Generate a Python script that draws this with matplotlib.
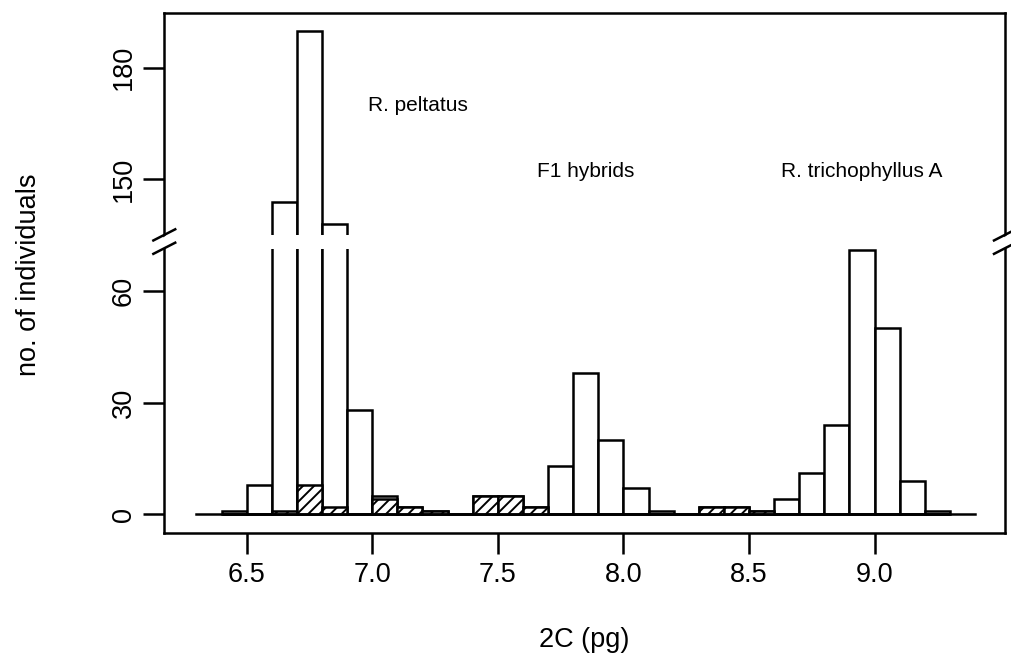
import numpy as np
import matplotlib.pyplot as plt
from matplotlib.patches import Rectangle

plt.rcParams['font.family'] = ['Liberation Sans', 'DejaVu Sans']
plt.rcParams['hatch.linewidth'] = 1.4

# bin left edges (2C, pg), bin width 0.1
bin_left = [6.4, 6.5, 6.6, 6.7, 6.8, 6.9, 7.0, 7.1, 7.2, 7.3,
            7.4, 7.5, 7.6, 7.7, 7.8, 7.9, 8.0, 8.1, 8.2, 8.3,
            8.4, 8.5, 8.6, 8.7, 8.8, 8.9, 9.0, 9.1, 9.2]
# all individuals (open bars)
n_total = [1, 8, 144, 190, 138, 28, 5, 2, 1, 0,
           5, 5, 2, 13, 38, 20, 7, 1, 0, 2,
           2, 1, 4, 11, 24, 71, 50, 9, 1]
# hatched subset
n_hatched = [0, 0, 1, 8, 2, 0, 4, 2, 1, 0,
             5, 5, 2, 0, 0, 0, 0, 0, 0, 2,
             2, 1, 0, 0, 0, 0, 0, 0, 0]

y_ticks = [0, 30, 60, 150, 180]
x_ticks = [6.5, 7.0, 7.5, 8.0, 8.5, 9.0]
labels = [("R. peltatus", 7.18, 170), ("F1 hybrids", 7.85, 152),
          ("R. trichophyllus A", 8.95, 152)]

gap = (75, 135)     # y-axis break
offset = 60         # values above the gap are drawn lowered by this
gap_lo, gap_hi = 71.3, 75.1   # white band in display units
width = 0.1


def to_disp(v):
    v = np.asarray(v, dtype=float)
    return np.where(v >= gap[1], v - offset, v)


fig = plt.figure(figsize=(10.11, 6.68), dpi=100)
ax = fig.add_axes([0.1625, 0.2025, 0.8315, 0.7773])

ax.bar(bin_left, to_disp(n_total), width=width, align='edge',
       facecolor='white', edgecolor='black', linewidth=1.8, zorder=2)
ax.bar(bin_left, n_hatched, width=width, align='edge',
       facecolor='white', edgecolor='black', hatch='///', linewidth=1.8, zorder=3)

# white band through bars that cross the break
for x0, v in zip(bin_left, n_total):
    if v >= gap[1]:
        ax.add_patch(Rectangle((x0 - 0.006, gap_lo), width + 0.012, gap_hi - gap_lo,
                               facecolor='white', edgecolor='none', zorder=4))

ax.plot([6.3, 9.4], [0, 0], color='black', linewidth=1.8, zorder=5)

for txt, x, y in labels:
    ax.text(x, float(to_disp(y)), txt, ha='center', va='center', fontsize=15)

ax.set_xlim(6.172, 9.519)
ax.set_ylim(-4.95, 134.6)
ax.set_xticks(x_ticks)
ax.set_xticklabels(["%.1f" % t for t in x_ticks], fontsize=19.5)
ax.set_yticks(to_disp(y_ticks))
ax.set_yticklabels([str(t) for t in y_ticks], fontsize=19.5, rotation=90, va='center')
ax.tick_params(length=15, width=1.8, pad=5)
ax.tick_params(axis='x', pad=6)
for s in ax.spines.values():
    s.set_linewidth(1.8)

# axis break marks (slashes) on both sides
trans = ax.get_yaxis_transform()
for xc in (0.0, 1.0):
    dx = 0.013
    ax.fill([xc - dx, xc + dx, xc + dx, xc - dx],
            [70.0, 73.5, 76.3, 72.5], color='white', transform=trans,
            clip_on=False, zorder=6)
    ax.plot([xc - dx, xc + dx], [70.0, 73.0], color='black', lw=1.8,
            transform=trans, clip_on=False, zorder=7)
    ax.plot([xc - dx, xc + dx], [73.6, 76.6], color='black', lw=1.8,
            transform=trans, clip_on=False, zorder=7)

fig.text(0.5782, 1 - 640 / 668, "2C (pg)", ha='center', va='center', fontsize=19.5)
fig.text(29 / 1011, 1 - 275 / 668, "no. of individuals", ha='center', va='center',
         rotation=90, fontsize=19.5)

fig.savefig("out.png", dpi=100)
